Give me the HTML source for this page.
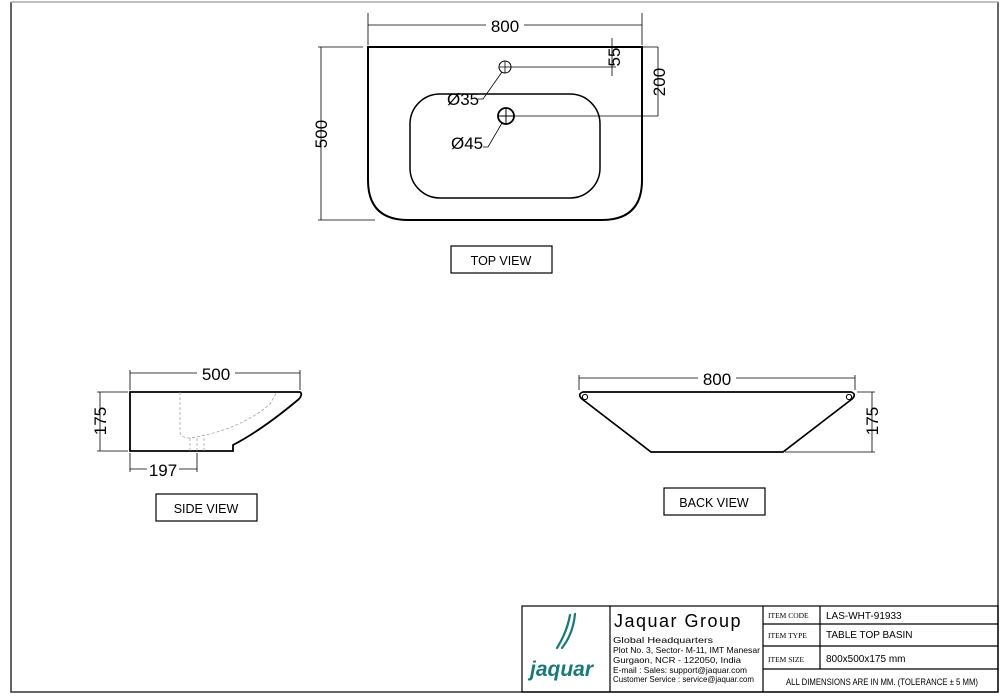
<!DOCTYPE html>
<html><head><meta charset="utf-8"><style>
html,body{margin:0;padding:0;background:#fff}
svg{display:block}
text{font-family:"Liberation Sans",sans-serif;fill:#000}
</style></head><body>
<svg width="1000" height="698" viewBox="0 0 1000 698" xmlns="http://www.w3.org/2000/svg">
<g fill="none" stroke="#000">
<path d="M11 2 V692 H998 V2" stroke-width="1.5" stroke="#333"/>
<line x1="11" y1="2" x2="998" y2="2" stroke="#aaa" stroke-width="1.5"/>
<!-- TOP VIEW -->
<path d="M368 47 H642 V180 Q642 220 602 220 H408 Q368 220 368 180 Z" stroke-width="2"/>
<rect x="410" y="94" width="190" height="104" rx="30" stroke-width="1.5"/>
<circle cx="505" cy="67" r="6" stroke-width="1"/>
<path d="M499 67 H511 M505 61 V73" stroke-width="0.8"/>
<circle cx="506" cy="116" r="8" stroke-width="1.8"/>
<path d="M498 116 H514 M506 108 V124" stroke-width="1"/>
<g stroke-width="0.8">
<path d="M368 45 V13 M642 45 V13 M368 25 H642"/>
<path d="M363 47 H318 M375 220 H318 M321 47 V220"/>
<path d="M511 67 H616 M612 38 V76"/>
<path d="M642 47 H658 M514 116 H658 M658 47 V116"/>
<path d="M502 72 L483 99 H478"/>
<path d="M502 123 L488 147 H483"/>
</g>
<rect x="451" y="246" width="101" height="27" stroke-width="1.2"/>
<!-- SIDE VIEW -->
<path d="M130 392 H300 Q303 394 299 399 Q262 430 233 445 V451 H130 Z" stroke-width="1.8"/>
<path d="M180 392 V433 Q182 438 190 438 Q240 430 270 404 L277 392 M190 438 V452 M197 438 V452 M204 438 V452" stroke="#999" stroke-width="0.7" stroke-dasharray="3,2"/>
<g stroke-width="0.8">
<path d="M130 390 V370 M300 390 V370 M130 373 H300"/>
<path d="M128 392 H97 M128 451 H97 M100 392 V451"/>
<path d="M130 453 V472 M197 453 V472 M130 469 H197"/>
</g>
<rect x="156" y="494" width="101" height="27" stroke-width="1.2"/>
<!-- BACK VIEW -->
<path d="M583 392 H851 Q857 394 852 399 L783 452 H651 L582 399 Q577 394 583 392 Z" stroke-width="1.7"/>
<circle cx="585" cy="397" r="2.6" stroke-width="1"/>
<circle cx="849" cy="397" r="2.6" stroke-width="1"/>
<g stroke-width="0.8">
<path d="M579 390 V375 M855 390 V375 M579 378 H855"/>
<path d="M857 392 H875 M785 452 H875 M872 392 V452"/>
</g>
<rect x="664" y="488" width="101" height="27" stroke-width="1.2"/>
<!-- TITLE BLOCK -->
<g stroke-width="1.2">
<rect x="522" y="606" width="476" height="86"/>
<path d="M610 606 V692 M763 606 V692 M820 606 V669 M763 624 H998 M763 646 H998 M763 669 H998"/>
</g>
</g>
<!-- labels -->
<g font-size="17">
<rect x="486" y="16" width="38" height="18" fill="#fff"/>
<text x="505" y="32" text-anchor="middle">800</text>
<text transform="translate(327,134) rotate(-90)" text-anchor="middle">500</text>
<text transform="translate(620,57) rotate(-90)" text-anchor="middle">55</text>
<text transform="translate(665,82) rotate(-90)" text-anchor="middle">200</text>
<text x="447" y="105">Ø35</text>
<text x="451" y="149">Ø45</text>
<rect x="197" y="365" width="38" height="18" fill="#fff"/>
<text x="216" y="380" text-anchor="middle">500</text>
<text transform="translate(106,421) rotate(-90)" text-anchor="middle">175</text>
<rect x="147" y="461" width="32" height="18" fill="#fff"/>
<text x="163" y="476" text-anchor="middle">197</text>
<rect x="698" y="370" width="38" height="18" fill="#fff"/>
<text x="717" y="385" text-anchor="middle">800</text>
<text transform="translate(878,421) rotate(-90)" text-anchor="middle">175</text>
</g>
<g font-size="12.5">
<text x="501" y="265" text-anchor="middle">TOP VIEW</text>
<text x="206" y="513" text-anchor="middle">SIDE VIEW</text>
<text x="714" y="507" text-anchor="middle">BACK VIEW</text>
</g>
<!-- logo -->
<g fill="none" stroke="#1a7a78" stroke-width="2.2" stroke-linecap="round">
<path d="M570 615 Q567 632 557 648"/>
<path d="M575 614 Q573 634 562 648"/>
</g>
<text x="530" y="676" font-size="21" font-style="italic" font-weight="bold" style="fill:#1a7a78">jaquar</text>
<text x="614" y="627" font-size="18" letter-spacing="1.5">Jaquar Group</text>
<g font-size="8.3">
<text x="613" y="643" textLength="100" lengthAdjust="spacingAndGlyphs">Global Headquarters</text>
<text x="613" y="653" textLength="147" lengthAdjust="spacingAndGlyphs">Plot No. 3, Sector- M-11, IMT Manesar</text>
<text x="613" y="663" textLength="128" lengthAdjust="spacingAndGlyphs">Gurgaon, NCR - 122050, India</text>
<text x="613" y="673" textLength="134" lengthAdjust="spacingAndGlyphs">E-mail : Sales: support@jaquar.com</text>
<text x="613" y="682" textLength="141" lengthAdjust="spacingAndGlyphs">Customer Service : service@jaquar.com</text>
</g>
<g font-size="7.5">
<text x="768" y="618" style="font-family:'Liberation Serif',serif">ITEM CODE</text>
<text x="768" y="638" style="font-family:'Liberation Serif',serif">ITEM TYPE</text>
<text x="768" y="662" style="font-family:'Liberation Serif',serif">ITEM SIZE</text>
</g>
<g font-size="10">
<text x="826" y="619">LAS-WHT-91933</text>
<text x="826" y="638">TABLE TOP BASIN</text>
<text x="826" y="662">800x500x175 mm</text>
<text x="786" y="685" font-size="9" textLength="192" lengthAdjust="spacingAndGlyphs">ALL DIMENSIONS ARE IN MM. (TOLERANCE ± 5 MM)</text>
</g>
</svg>
</body></html>
